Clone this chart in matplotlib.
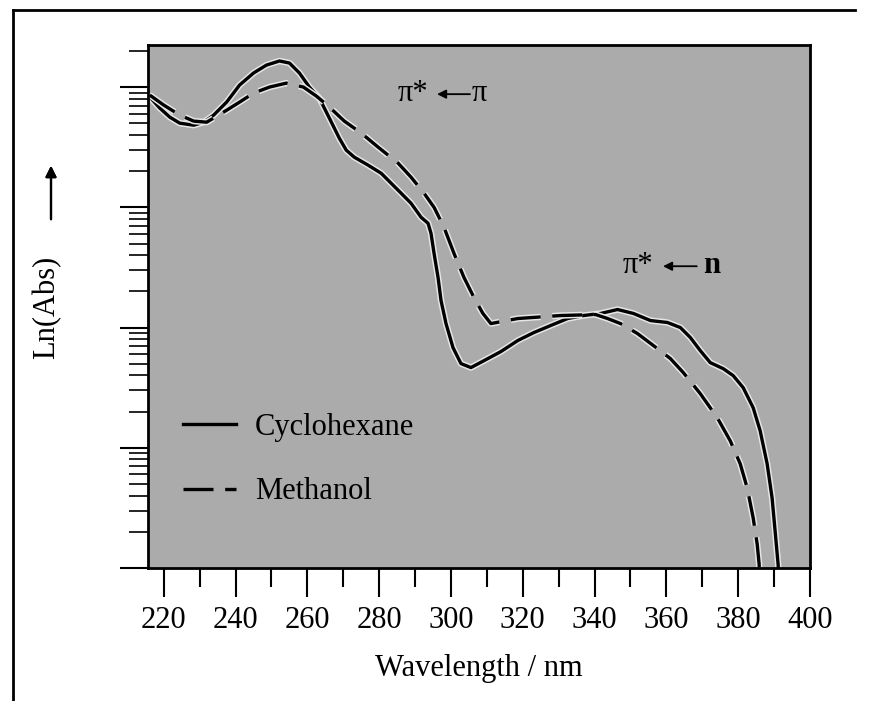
import matplotlib
matplotlib.use("Agg")
import matplotlib.pyplot as plt
import matplotlib.patheffects as pe
from matplotlib.lines import Line2D
from matplotlib.ticker import LogLocator, NullFormatter
import numpy as np

plt.rcParams['font.family'] = ['Liberation Serif', 'DejaVu Serif']

# data: wavelength (nm) and log10 absorbance
cyc_nm = [216.11, 218.89, 221.67, 224.44, 228.33, 231.11, 233.89, 237.50, 241.11, 245.00,
          248.61, 252.22, 255.00, 257.78, 260.56, 263.33, 266.11, 268.89, 270.83, 273.06,
          276.94, 280.56, 283.33, 286.11, 288.89, 291.67, 293.61, 294.44, 295.28, 296.39,
          297.22, 298.61, 300.56, 302.78, 305.56, 310.28, 313.89, 318.61, 323.06, 327.78,
          332.50, 336.94, 341.67, 346.39, 350.83, 355.56, 360.28, 363.89, 366.67, 369.44,
          372.22, 375.83, 378.61, 381.39, 384.17, 386.11, 388.06, 389.44, 390.28, 391.11,
          391.67]
cyc_log = [0.917, 0.825, 0.750, 0.700, 0.683, 0.708, 0.767, 0.875, 1.017, 1.117,
           1.183, 1.217, 1.200, 1.117, 1.000, 0.908, 0.742, 0.575, 0.475, 0.417,
           0.350, 0.283, 0.200, 0.117, 0.033, -0.083, -0.133, -0.217, -0.383, -0.583,
           -0.775, -0.967, -1.167, -1.300, -1.333, -1.258, -1.200, -1.108, -1.042, -0.983,
           -0.925, -0.900, -0.883, -0.850, -0.883, -0.942, -0.958, -1.000, -1.083, -1.192,
           -1.292, -1.342, -1.400, -1.500, -1.667, -1.858, -2.133, -2.417, -2.692, -2.967,
           -3.275]

met_nm = [216.11, 220.00, 224.44, 228.33, 231.94, 236.67, 241.11, 245.00, 249.44, 254.17,
          258.89, 262.50, 265.83, 270.28, 275.00, 279.72, 285.28, 288.89, 292.50, 295.28,
          298.06, 300.83, 303.61, 306.39, 308.89, 311.11, 318.61, 330.56, 340.28, 343.61,
          347.22, 351.94, 356.39, 361.11, 364.72, 369.44, 374.17, 377.78, 380.56, 382.50,
          384.17, 385.28, 385.83, 386.11]
met_log = [0.933, 0.850, 0.767, 0.717, 0.708, 0.792, 0.875, 0.950, 1.000, 1.033,
           1.000, 0.925, 0.842, 0.717, 0.617, 0.500, 0.367, 0.250, 0.117, 0.000,
           -0.167, -0.383, -0.583, -0.750, -0.883, -0.967, -0.925, -0.900, -0.892, -0.925,
           -0.967, -1.050, -1.150, -1.258, -1.375, -1.550, -1.750, -1.942, -2.133, -2.333,
           -2.583, -2.800, -2.967, -3.275]

x_ticks = [220, 240, 260, 280, 300, 320, 340, 360, 380, 400]

bg = '#ababab'
halo = [pe.Stroke(linewidth=4.6, foreground='#e6e6e6'), pe.Normal()]

fig = plt.figure(figsize=(8.74, 7.01), dpi=100)
ax = fig.add_axes([148/874, 133/701, 662/874, 523/701])
ax.set_facecolor(bg)

ax.plot(cyc_nm, 10**np.array(cyc_log), color='black', lw=2.4,
        path_effects=halo, label='Cyclohexane')
ax.plot(met_nm, 10**np.array(met_log), color='black', lw=2.4,
        dashes=(9, 3.5), path_effects=halo, label='Methanol')

ax.set_yscale('log')
ax.set_xlim(215.6, 400)
ax.set_ylim(1e-3, 10**1.35)

ax.set_xticks(x_ticks)
ax.set_xticks(np.arange(230, 400, 20), minor=True)
ax.tick_params(axis='x', which='major', length=21, width=1.5, labelsize=22, pad=6)
ax.tick_params(axis='x', which='minor', length=14, width=1.5)
ax.yaxis.set_major_locator(LogLocator(base=10))
ax.yaxis.set_minor_locator(LogLocator(base=10, subs=np.arange(2, 10)))
ax.yaxis.set_major_formatter(NullFormatter())
ax.yaxis.set_minor_formatter(NullFormatter())
ax.tick_params(axis='y', which='major', length=20, width=1.5)
ax.tick_params(axis='y', which='minor', length=14, width=1.2)
for s in ax.spines.values():
    s.set_linewidth(2)

ax.set_xlabel('Wavelength / nm', fontsize=22, labelpad=14)

# transition labels
arrow = dict(arrowstyle='-|>', color='black', lw=1.3, mutation_scale=13,
             shrinkA=0, shrinkB=0)
ax.text(0.3776, 0.893, 'π*', transform=ax.transAxes, fontsize=22, va='baseline')
ax.annotate('', xy=(0.4366, 0.906), xytext=(0.4864, 0.906),
            xycoords='axes fraction', arrowprops=arrow)
ax.text(0.4894, 0.893, 'π', transform=ax.transAxes, fontsize=22, va='baseline')

ax.text(0.7175, 0.564, 'π*', transform=ax.transAxes, fontsize=22, va='baseline')
ax.annotate('', xy=(0.778, 0.577), xytext=(0.829, 0.577),
            xycoords='axes fraction', arrowprops=arrow)
ax.text(0.838, 0.564, 'n', transform=ax.transAxes, fontsize=22,
        fontweight='bold', va='baseline')

leg = ax.legend(loc='upper left', bbox_to_anchor=(0.0526, 0.296), frameon=False,
                fontsize=22, handlelength=1.75, handletextpad=0.6,
                labelspacing=1.15, borderpad=0, borderaxespad=0)
for h in leg.get_lines():
    h.set_path_effects([])

# y label with arrow
fig.text(47/874, 1 - 307/701, 'Ln(Abs)', rotation=90, fontsize=22,
         ha='center', va='center')
fig.add_artist(plt.annotate('', xy=(51/874, 1 - 163/701), xytext=(51/874, 1 - 222/701),
                            xycoords='figure fraction',
                            arrowprops=dict(arrowstyle='-|>', color='black', lw=1.6,
                                            mutation_scale=16)))

# outer frame (left and top only, as scanned)
fig.add_artist(Line2D([13/874, 13/874], [0, 1 - 10/701], color='black', lw=2,
                      transform=fig.transFigure))
fig.add_artist(Line2D([13/874, 855/874], [1 - 10/701, 1 - 10/701], color='black', lw=2,
                      transform=fig.transFigure))

fig.savefig('out.png', dpi=100, facecolor='white')
